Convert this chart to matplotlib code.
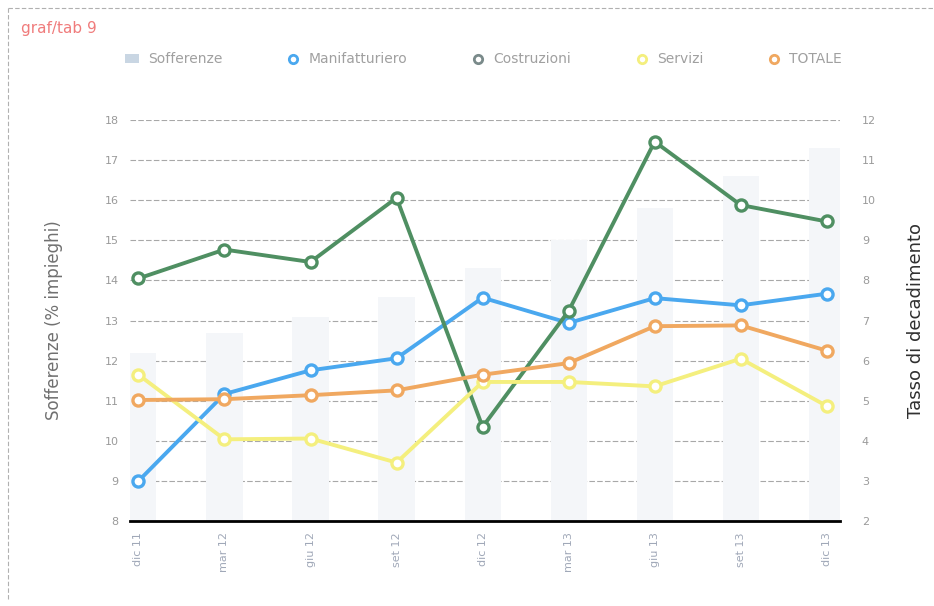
import matplotlib.pyplot as plt
from matplotlib.lines import Line2D
from matplotlib.patches import Patch
import numpy as np

# data
periods = ['dic 11', 'mar 12', 'giu 12', 'set 12', 'dic 12',
           'mar 13', 'giu 13', 'set 13', 'dic 13']
sofferenze = [12.2, 12.7, 13.1, 13.6, 14.3, 15.0, 15.8, 16.6, 17.3]  # faint bars, left axis
manifatturiero = [3.0, 5.17, 5.76, 6.06, 7.57, 6.94, 7.56, 7.38, 7.67]
costruzioni = [8.05, 8.77, 8.46, 10.06, 4.35, 7.24, 11.46, 9.88, 9.47]
servizi = [5.65, 4.04, 4.06, 3.46, 5.47, 5.47, 5.36, 6.05, 4.87]
totale = [5.02, 5.04, 5.14, 5.26, 5.65, 5.94, 6.86, 6.88, 6.25]

left_ticks = list(range(8, 19))
right_ticks = list(range(2, 13))

c_bar = '#f4f6f9'
c_man = '#4aa8ef'
c_cos = '#4f8f62'
c_ser = '#f4ef7e'
c_tot = '#f0a860'

fig = plt.figure(figsize=(9.34, 6.06), dpi=100)
ax = fig.add_axes([0.139, 0.140, 0.760, 0.662])
ax2 = ax.twinx()

x = np.arange(len(periods))
ax.bar(x, sofferenze, width=0.42, color=c_bar, zorder=1)
ax.set_ylim(8, 18)
ax.set_yticks(left_ticks)
ax.set_xlim(-0.1, 8.15)
ax.set_xticks(x)
ax.set_xticklabels(periods, rotation=90, fontsize=8, color='#a0a8b8')
ax.tick_params(axis='both', length=0, pad=8)
ax.tick_params(axis='y', labelsize=8, labelcolor='#9a9a9a')
ax.grid(axis='y', color='#a8a8a8', linewidth=0.8, linestyle=(0, (5, 2)))
ax.set_axisbelow(True)
for s in ['top', 'right', 'left']:
    ax.spines[s].set_visible(False)
ax.spines['bottom'].set_color('black')
ax.spines['bottom'].set_linewidth(2)
ax.set_ylabel('Sofferenze (% impieghi)', fontsize=12, color='#707070', labelpad=30)

series = [(manifatturiero, c_man), (costruzioni, c_cos), (servizi, c_ser), (totale, c_tot)]
for vals, col in series:
    ax2.plot(x, vals, color=col, linewidth=2.8, marker='o', markersize=8,
             markerfacecolor='white', markeredgecolor=col, markeredgewidth=2.4, zorder=3)
ax2.set_ylim(2, 12)
ax2.set_yticks(right_ticks)
ax2.tick_params(axis='y', length=0, pad=16, labelsize=8, labelcolor='#9a9a9a')
for s in ['top', 'right', 'left', 'bottom']:
    ax2.spines[s].set_visible(False)
ax2.set_ylabel('Tasso di decadimento', fontsize=13, color='#303030', labelpad=22)

fig.text(0.023, 0.945, 'graf/tab 9', fontsize=11, color='#f07c7c')

handles = [
    Patch(facecolor='#c9d6e3', edgecolor='none', label='Sofferenze'),
    Line2D([], [], color='none', marker='o', markersize=6, markerfacecolor='white',
           markeredgecolor=c_man, markeredgewidth=2, label='Manifatturiero'),
    Line2D([], [], color='none', marker='o', markersize=6, markerfacecolor='white',
           markeredgecolor='#7a8a8a', markeredgewidth=2, label='Costruzioni'),
    Line2D([], [], color='none', marker='o', markersize=6, markerfacecolor='white',
           markeredgecolor=c_ser, markeredgewidth=2, label='Servizi'),
    Line2D([], [], color='none', marker='o', markersize=6, markerfacecolor='white',
           markeredgecolor=c_tot, markeredgewidth=2, label='TOTALE'),
]
leg = fig.legend(handles=handles, loc='center', bbox_to_anchor=(0.518, 0.902), ncol=5,
                 frameon=False, fontsize=10, columnspacing=4.6, handlelength=1.0,
                 handletextpad=0.6)
for t in leg.get_texts():
    t.set_color('#a0a0a0')

# scanned page frame (top and left edges only)
fig.add_artist(Line2D([0.009, 1.0], [0.987, 0.987], transform=fig.transFigure,
                      color='#b0b0b0', linewidth=0.8, linestyle=(0, (4, 2))))
fig.add_artist(Line2D([0.009, 0.009], [0.012, 0.987], transform=fig.transFigure,
                      color='#b0b0b0', linewidth=0.8, linestyle=(0, (4, 2))))

fig.savefig('out.png', dpi=100, facecolor='white')
